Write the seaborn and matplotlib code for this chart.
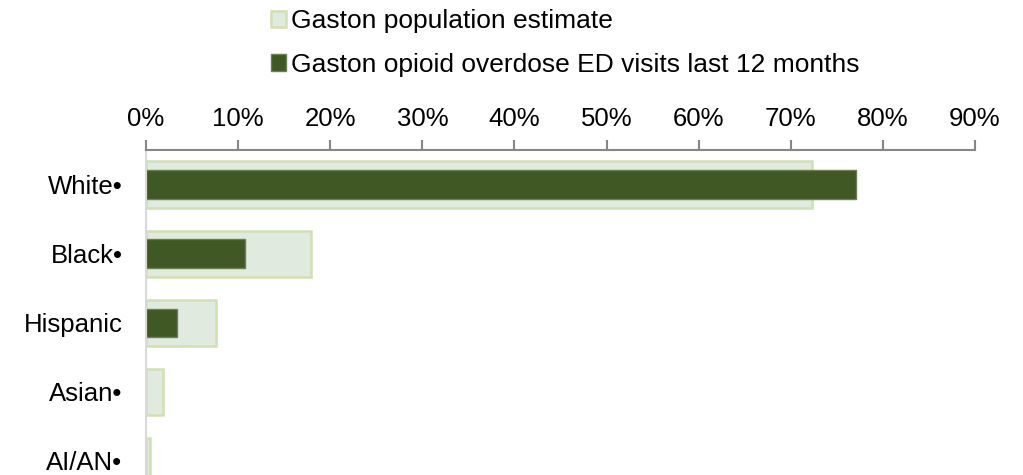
import matplotlib
matplotlib.use("Agg")
import matplotlib.pyplot as plt
import seaborn as sns
import pandas as pd
from matplotlib.patches import Patch

categories = ["White•", "Black•", "Hispanic", "Asian•", "AI/AN•"]
population = [72.3, 17.9, 7.6, 1.8, 0.4]
ed_visits = [77.1, 10.8, 3.4, 0.0, 0.0]
tick_values = [0, 10, 20, 30, 40, 50, 60, 70, 80, 90]
tick_labels = ["0%", "10%", "20%", "30%", "40%", "50%", "60%", "70%", "80%", "90%"]
series_names = ["Gaston population estimate", "Gaston opioid overdose ED visits last 12 months"]

sns.set_theme(style="white")
plt.rcParams["font.family"] = ["Liberation Sans", "DejaVu Sans"]
plt.rcParams["text.color"] = "#000000"

W, H = 1023, 475
fig = plt.figure(figsize=(W / 100, H / 100), dpi=100)
left, right, top, bottom = 146, 975, 150, 495.5
ax = fig.add_axes([left / W, (H - bottom) / H, (right - left) / W, (bottom - top) / H])

df_pop = pd.DataFrame({"cat": categories, "val": population})
df_ed = pd.DataFrame({"cat": categories, "val": ed_visits})

pop_fill, pop_edge = "#E1EADE", "#D0E1B0"
ed_fill, ed_edge = "#3F5824", "#6A8050"

sns.barplot(data=df_pop, y="cat", x="val", orient="h", width=0.67,
            color=pop_fill, edgecolor=pop_edge, linewidth=1.8, saturation=1, ax=ax)
sns.barplot(data=df_ed, y="cat", x="val", orient="h", width=0.41,
            color=ed_fill, edgecolor=ed_edge, linewidth=1.0, saturation=1, ax=ax)
for p in ax.patches:
    if p.get_width() == 0:
        p.set_visible(False)

ax.set_xlim(0, 90)
ax.set_ylim(4.5, -0.5)
ax.set_xlabel("")
ax.set_ylabel("")
ax.xaxis.tick_top()
ax.set_xticks(tick_values)
ax.set_xticklabels(tick_labels, fontsize=18.5, color="#000000")
ax.tick_params(axis="x", direction="out", length=7, width=1.5, color="#868686", pad=7)
ax.tick_params(axis="y", length=0, pad=17, labelsize=18.5, labelcolor="#000000")

for s in ["right", "bottom"]:
    ax.spines[s].set_visible(False)
ax.spines["top"].set_color("#868686")
ax.spines["top"].set_linewidth(1.5)
ax.spines["left"].set_color("#D9D9D9")
ax.spines["left"].set_linewidth(1.5)

handles = [Patch(facecolor=pop_fill, edgecolor=pop_edge, linewidth=1.8),
           Patch(facecolor=ed_fill, edgecolor=ed_edge, linewidth=1.0)]
fig.legend(handles, series_names, loc="center left",
           bbox_to_anchor=(271 / W, 1 - 43 / H), frameon=False, fontsize=19,
           handlelength=0.57, handleheight=0.57, handletextpad=0.19, labelspacing=0.75,
           borderaxespad=0, borderpad=0)

fig.savefig("out.png", dpi=100)
